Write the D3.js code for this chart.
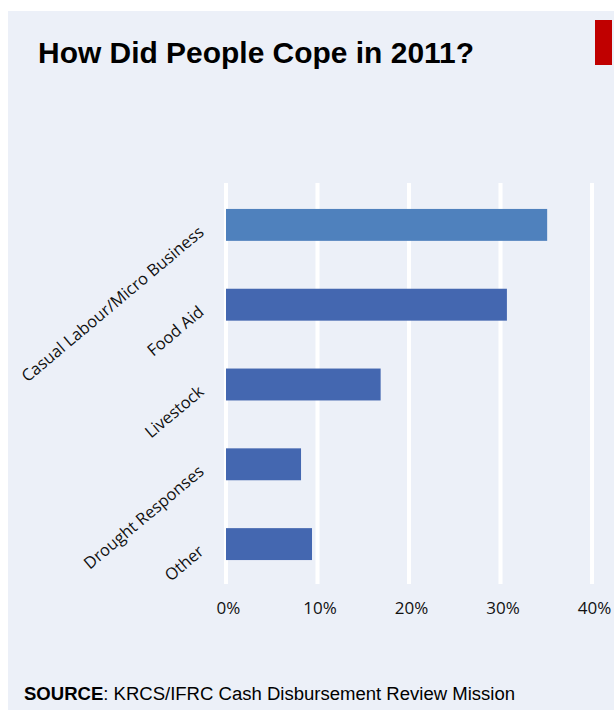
<!DOCTYPE html>
<html>
<head>
<meta charset="utf-8">
<script src="https://cdn.jsdelivr.net/npm/d3@7"></script>
<style>
  html, body { margin: 0; padding: 0; background: #ffffff; }
  svg { display: block; }
</style>
</head>
<body>
<svg id="chart" width="614" height="710"></svg>
<script>
// Coping strategies, share of households (%)
const categories = ["Casual Labour/Micro Business", "Food Aid", "Livestock", "Drought Responses", "Other"];
const values = [35.1, 30.7, 16.9, 8.2, 9.4];
const barColors = ["#4F81BD", "#4467B0", "#4467B0", "#4467B0", "#4467B0"];
const tickValues = [0, 10, 20, 30, 40];

const svg = d3.select("#chart");
const W = 614, H = 710;

// slide background panel
svg.append("rect").attr("x", 8).attr("y", 11).attr("width", W - 8).attr("height", H - 11)
  .attr("fill", "#ECF0F8");

// red accent block
svg.append("rect").attr("x", 595).attr("y", 20).attr("width", 17).attr("height", 45)
  .attr("fill", "#C00000");

// title
svg.append("text").attr("x", 38).attr("y", 63)
  .attr("font-family", "'Liberation Sans', Arial, sans-serif")
  .attr("font-weight", "bold").attr("font-size", 30).attr("fill", "#000")
  .attr("textLength", 436).attr("lengthAdjust", "spacingAndGlyphs")
  .text("How Did People Cope in 2011?");

const x = d3.scaleLinear().domain([0, 40]).range([226, 592]);
const y = d3.scaleBand().domain(categories).range([185, 584]).paddingInner(0.6).paddingOuter(0.3);

// vertical gridlines
svg.append("g").selectAll("line").data(tickValues).join("line")
  .attr("x1", d => x(d)).attr("x2", d => x(d))
  .attr("y1", 183).attr("y2", 584)
  .attr("stroke", "#ffffff").attr("stroke-width", 4);

// bars
svg.append("g").selectAll("rect").data(categories).join("rect")
  .attr("x", x(0))
  .attr("y", d => y(d))
  .attr("width", (d, i) => x(values[i]) - x(0))
  .attr("height", y.bandwidth())
  .attr("fill", (d, i) => barColors[i]);

// x axis labels
const xAxis = d3.axisBottom(x).tickValues(tickValues).tickFormat(d => d + "%").tickSize(0).tickPadding(0);
const gx = svg.append("g").attr("transform", "translate(2,602)").call(xAxis);
gx.select(".domain").remove();
gx.selectAll("text")
  .attr("font-family", "'Open Sans', 'DejaVu Sans', sans-serif")
  .attr("font-size", 17).attr("fill", "#111");

// rotated category labels
svg.append("g").selectAll("text").data(categories).join("text")
  .attr("transform", d => `translate(205,${y(d) + y.bandwidth() / 2 + 9}) rotate(-40)`)
  .attr("text-anchor", "end")
  .attr("font-family", "'Open Sans', 'DejaVu Sans', sans-serif")
  .attr("font-size", 16.5).attr("fill", "#111")
  .text(d => d);

// source note
const src = svg.append("text").attr("x", 24).attr("y", 700)
  .attr("font-family", "'Liberation Sans', Arial, sans-serif")
  .attr("font-size", 18).attr("fill", "#000")
  .attr("textLength", 491).attr("lengthAdjust", "spacingAndGlyphs");
src.append("tspan").attr("font-weight", "bold").text("SOURCE");
src.append("tspan").text(":  KRCS/IFRC Cash Disbursement Review Mission");
</script>
</body>
</html>
